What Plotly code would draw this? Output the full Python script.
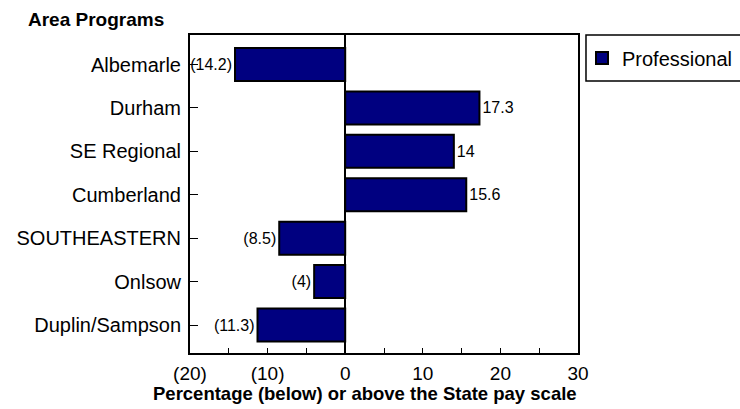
import plotly.graph_objects as go

categories = ["Albemarle", "Durham", "SE Regional", "Cumberland", "SOUTHEASTERN", "Onlsow", "Duplin/Sampson"]
values = [-14.2, 17.3, 14, 15.6, -8.5, -4, -11.3]
tick_vals = [-20, -10, 0, 10, 20, 30]
tick_text = ["(20)", "(10)", "0", "10", "20", "30"]
series_name = "Professional"

def fmt(v):
    s = ("%g" % abs(v))
    return "(%s)" % s if v < 0 else s

FONT = "Liberation Sans, Arial, sans-serif"

fig = go.Figure()
fig.add_trace(go.Bar(
    y=categories, x=values, orientation="h", name=series_name,
    marker=dict(color="#000080", line=dict(color="black", width=2)),
    text=[fmt(v) for v in values], textposition="outside",
    textfont=dict(family=FONT, size=16, color="black"),
    cliponaxis=False, width=0.76, showlegend=True,
))

fig.update_layout(
    width=740, height=409,
    margin=dict(l=190, r=162, t=35, b=56, autoexpand=False),
    plot_bgcolor="white", paper_bgcolor="white",
    font=dict(family=FONT, size=19, color="black"),
    showlegend=True,
    legend=dict(xref="container", yref="container",
                x=582 / 740, y=1 - 58 / 409, xanchor="left", yanchor="middle",
                bgcolor="rgba(0,0,0,0)", borderwidth=0,
                font=dict(family=FONT, size=20), itemwidth=30),
    shapes=[dict(type="rect", xref="paper", yref="paper",
                 x0=1.0206, x1=1.5, y0=0.855, y1=1.0,
                 line=dict(color="black", width=1.5))],
    annotations=[
        dict(text="<b>Area Programs</b>", xref="paper", yref="paper",
             x=-0.422, y=1.050, xanchor="left", yanchor="middle",
             showarrow=False, font=dict(family=FONT, size=19)),
        dict(text="<b>Percentage (below) or above the State pay scale</b>", xref="paper", yref="paper",
             x=0.451, y=-0.128, xanchor="center", yanchor="middle",
             showarrow=False, font=dict(family=FONT, size=18.5)),
    ],
)
fig.update_xaxes(
    range=[-20, 30], tickvals=tick_vals, ticktext=tick_text,
    ticks="inside", ticklen=5, tickcolor="black", tickwidth=1,
    minor=dict(dtick=5, ticks="inside", ticklen=5, tickcolor="black"),
    showline=True, linecolor="black", linewidth=2, mirror=True,
    showgrid=False, zeroline=True, zerolinecolor="black", zerolinewidth=1.5,
    tickfont=dict(size=19), ticklabelstandoff=2, automargin=False,
)
fig.update_yaxes(
    categoryorder="array", categoryarray=categories,
    range=[6.645, -0.68],
    ticks="inside", ticklen=8, tickcolor="black",
    showline=True, linecolor="black", linewidth=2, mirror=True,
    showgrid=False, tickfont=dict(size=20), ticklabelstandoff=3, automargin=False,
)
fig.write_html("out.html")
